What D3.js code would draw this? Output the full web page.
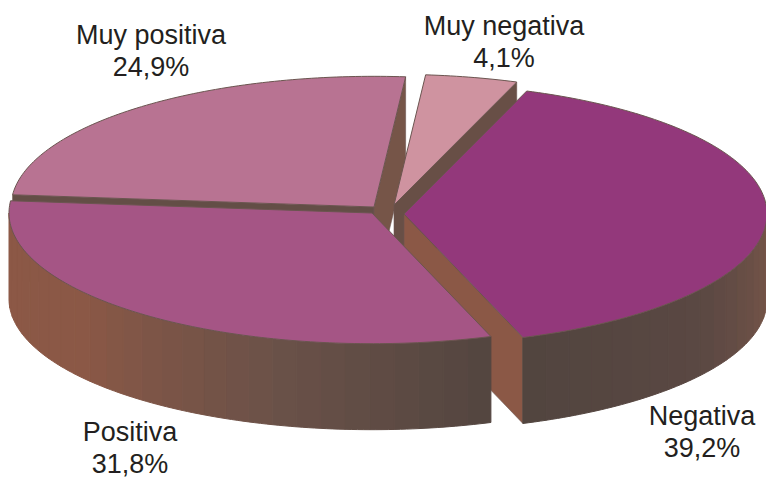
<!DOCTYPE html>
<html>
<head>
<meta charset="utf-8">
<script src="https://cdn.jsdelivr.net/npm/d3@7"></script>
<style>
html,body{margin:0;padding:0;background:#fff}
svg{display:block}
text{font-family:"Liberation Sans",Arial,sans-serif;font-size:27px;fill:#231f20;text-anchor:middle}
</style>
</head>
<body>
<div id="chart"></div>
<script>
const categories = ["Muy negativa", "Negativa", "Positiva", "Muy positiva"];
const values = [4.1, 39.2, 31.8, 24.9];
const valueLabels = ["4,1%", "39,2%", "31,8%", "24,9%"];
const topColors = ["#cf93a0", "#93387b", "#a55585", "#b87392"];

const width = 766, height = 478;
const R = 363, squash = 0.36, depth = 86;
const startDeg = 5.0;
const apexes = [[394, 205], [404, 214], [372, 213], [374, 207]];
const labelPos = [[504, 35], [702, 425], [130, 441], [151, 44]];
const paintOrder = [3, 0, 1, 2];

const rad = d => d * Math.PI / 180;
const deg = r => r * 180 / Math.PI;

const pie = d3.pie().sort(null)
  .startAngle(rad(startDeg)).endAngle(rad(startDeg + 360));
const arcs = pie(values);

const shade = d3.scaleLinear()
  .domain([90, 125, 160, 195, 233, 275])
  .range(["#7a5749", "#5b4843", "#52453f", "#6a5148", "#8b5846", "#8c5846"])
  .clamp(true);

const svg = d3.select("#chart").append("svg")
  .attr("width", width).attr("height", height);
const line = d3.line();

function project(i, a, h) {
  return [apexes[i][0] + R * Math.sin(a), apexes[i][1] - R * Math.cos(a) * squash + h];
}

function rimAngles(a0, a1, stepDeg) {
  const n = Math.max(1, Math.ceil((a1 - a0) / rad(stepDeg)));
  return d3.range(n + 1).map(k => a0 + (a1 - a0) * k / n);
}

function drawWall(i, a, normalDeg) {
  const n = ((normalDeg % 360) + 360) % 360;
  if (n <= 90 || n >= 270) return;
  const c = shade(n);
  svg.append("path")
    .attr("d", line([
      [apexes[i][0], apexes[i][1]],
      project(i, a, 0),
      project(i, a, depth),
      [apexes[i][0], apexes[i][1] + depth]
    ]) + "Z")
    .attr("fill", c).attr("stroke", "#6b5550").attr("stroke-width", 0.6);
}

paintOrder.forEach(i => {
  const arc = arcs[i];
  const a0 = arc.startAngle, a1 = arc.endAngle;

  drawWall(i, a0, deg(a0) - 90);
  drawWall(i, a1, deg(a1) + 90);

  // outer rim, only the part facing the viewer
  const f0 = Math.max(a0, rad(90)), f1 = Math.min(a1, rad(270));
  if (f1 > f0) {
    const ring = rimAngles(f0, f1, 4);
    d3.pairs(ring).forEach(([p, q]) => {
      const c = shade(deg((p + q) / 2));
      const pts = [];
      rimAngles(p, q, 1).forEach(t => pts.push(project(i, t, 0)));
      rimAngles(p, q, 1).reverse().forEach(t => pts.push(project(i, t, depth)));
      svg.append("path").attr("d", line(pts) + "Z")
        .attr("fill", c).attr("stroke", c).attr("stroke-width", 1);
    });
  }

  // top face
  const topPts = [apexes[i]].concat(rimAngles(a0, a1, 1).map(t => project(i, t, 0)));
  svg.append("path").attr("d", line(topPts) + "Z")
    .attr("fill", topColors[i])
    .attr("stroke", "#6b5550").attr("stroke-width", 1);
});

categories.forEach((c, i) => {
  const t = svg.append("text").attr("x", labelPos[i][0]).attr("y", labelPos[i][1]);
  t.append("tspan").attr("x", labelPos[i][0]).text(c);
  t.append("tspan").attr("x", labelPos[i][0]).attr("dy", 32).text(valueLabels[i]);
});
</script>
</body>
</html>
